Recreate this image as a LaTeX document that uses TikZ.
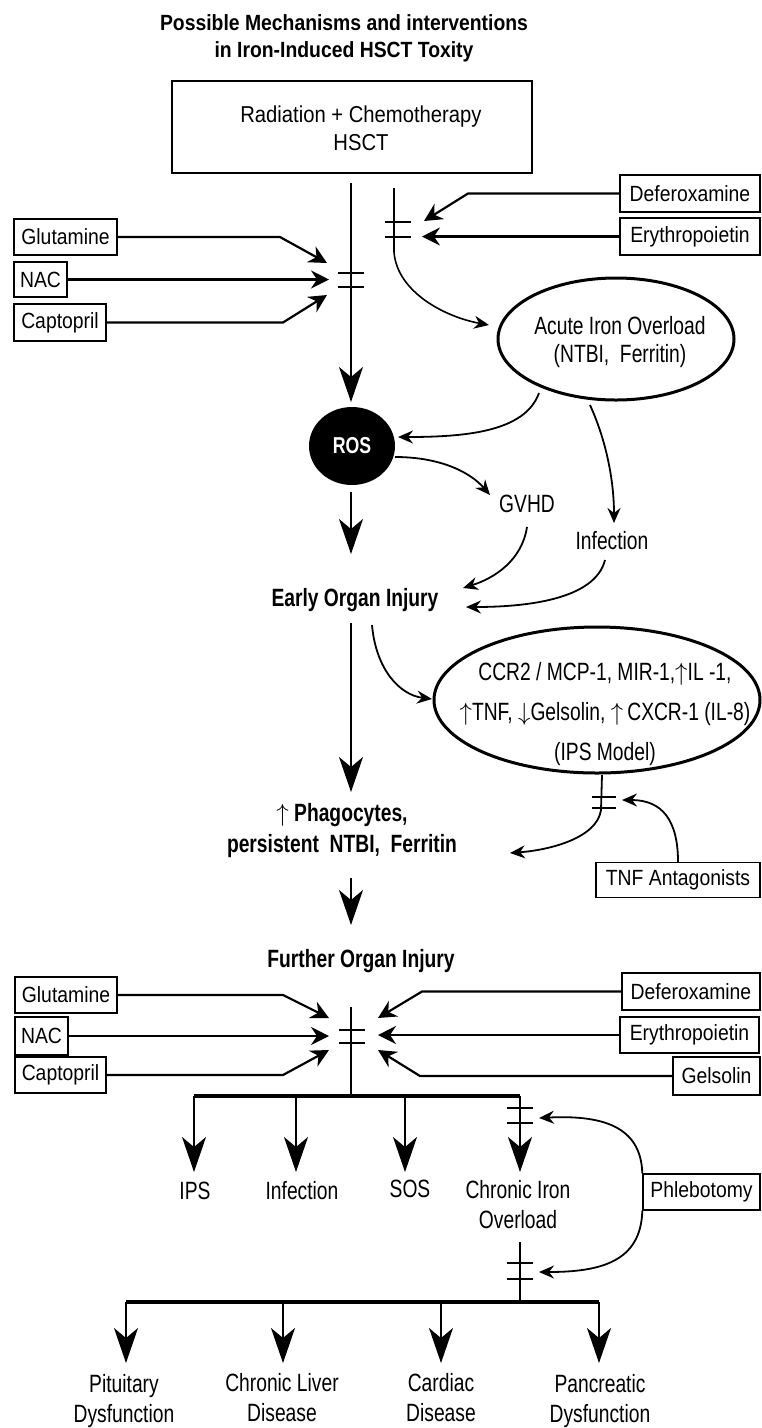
\documentclass[tikz,border=0pt]{standalone}
\usepackage{fontspec}
\setmainfont{Liberation Sans}
\newfontfamily\condfam[FakeStretch=0.77]{Liberation Sans}
\newfontfamily\boxfam[FakeStretch=0.88]{Liberation Sans}
\usetikzlibrary{arrows.meta,shapes.geometric}
\newcommand\lblfont{\condfam\fontsize{25}{30}\selectfont}
\newcommand\boxfont{\boxfam\fontsize{22}{26}\selectfont}
\newcommand\inhibbars[4]{% x, y1, y2, half width
  \draw[barline] ({#1-#4},#2) -- ({#1+#4},#2);
  \draw[barline] ({#1-#4},#3) -- ({#1+#4},#3);}
\newcommand\upa{$\uparrow$}
\newcommand\dna{$\downarrow$}
\begin{document}
\begin{tikzpicture}[x=1pt,y=-1pt,
  every node/.style={font=\lblfont, inner sep=1pt},
  box/.style={draw, line width=1.4pt, inner sep=2pt, font=\boxfont},
  oval/.style={draw, ellipse, line width=3pt, inner sep=0pt},
  thinline/.style={line width=1.4pt},
  bigarrow/.style={line width=1.5pt, -{Stealth[length=35pt,width=24pt,inset=10pt]}},
  medarrow/.style={line width=2.2pt, -{Stealth[length=18pt,width=18pt,inset=6pt]}},
  smallarrow/.style={line width=1.8pt, -{Stealth[length=15pt,width=13pt,inset=5pt]}},
  barline/.style={line width=2pt},
  busline/.style={line width=4pt},
]
\useasboundingbox (0,0) rectangle (762,1428);

% ---------- title and source box
\node[anchor=north, align=center, font=\boxfam\bfseries\fontsize{22}{27}\selectfont] (title) at (344,13)
  {Possible Mechanisms and interventions\\in Iron-Induced HSCT Toxity};
\node[draw, line width=2.2pt, minimum width=360pt, minimum height=92pt,
  label={[align=center, font=\boxfam\fontsize{23}{28}\selectfont, xshift=9pt, yshift=-1pt]center:{Radiation + Chemotherapy\\HSCT}}] (hsct) at (352,127) {};

% ---------- upper intervention boxes
\node[box, minimum width=103pt, minimum height=36pt] (glu1) at (65.5,237) {Glutamine};
\node[box, minimum width=53pt, minimum height=35pt] (nac1) at (40.5,279.5) {NAC};
\node[box, minimum width=92pt, minimum height=37pt] (cap1) at (60,322.5) {Captopril};
\node[box, minimum width=140pt, minimum height=37pt] (def1) at (690,193.5) {Deferoxamine};
\node[box, minimum width=140pt, minimum height=37pt] (ery1) at (690,236.5) {Erythropoietin};

% ---------- acute iron overload, ROS etc.
\node[oval, minimum width=236pt, minimum height=122pt,
  label={[align=center, font=\condfam\fontsize{25}{28}\selectfont, xshift=4pt, yshift=-3.5pt]center:{Acute Iron Overload\\(NTBI,\ \ Ferritin)}}] (aio) at (616,339) {};
\node[ellipse, fill=black, minimum width=86pt, minimum height=78pt, inner sep=0pt,
  text=white, font=\condfam\bfseries\fontsize{23}{24}\selectfont] (ros) at (352,446) {ROS};
\node[anchor=base] (gvhd) at (527,512) {GVHD};
\node[anchor=base] (inf1) at (612,549) {Infection};
\node[anchor=base, font=\condfam\bfseries\fontsize{25}{30}\selectfont] (eoi) at (355,606) {Early Organ Injury};

\node[oval, minimum width=326pt, minimum height=146pt,
  label={[align=center, font=\condfam\fontsize{25}{40}\selectfont, xshift=8pt, yshift=-14pt]center:{CCR2 / MCP-1, MIR-1,\upa IL -1,\\\upa TNF, \dna Gelsolin, \upa\,CXCR-1 (IL-8)\\(IPS Model)}}] (ccr) at (597,700) {};

\node[anchor=north, align=center, font=\condfam\bfseries\fontsize{25}{31}\selectfont] (phag) at (342,802)
  {\upa\ Phagocytes,\\persistent\ \ NTBI,\ \ Ferritin};
\node[box, minimum width=164pt, minimum height=35pt] (tnf) at (678,880) {TNF Antagonists};
\node[anchor=base, font=\condfam\bfseries\fontsize{25}{30}\selectfont] (foi) at (361,967) {Further Organ Injury};

% ---------- lower intervention boxes
\node[box, minimum width=102pt, minimum height=36pt] (glu2) at (66,995) {Glutamine};
\node[box, minimum width=53pt, minimum height=38pt] (nac2) at (41.5,1036) {NAC};
\node[box, minimum width=91pt, minimum height=36pt] (cap2) at (60.5,1075) {Captopril};
\node[box, minimum width=138pt, minimum height=37pt] (def2) at (691,991.5) {Deferoxamine};
\node[box, minimum width=139pt, minimum height=36pt] (ery2) at (689.5,1035) {Erythropoietin};
\node[box, minimum width=87pt, minimum height=38pt] (gel2) at (716.5,1076) {Gelsolin};

% ---------- outcomes
\node[anchor=base] (ips) at (195,1199) {IPS};
\node[anchor=base] (inf2) at (302,1199) {Infection};
\node[anchor=base] (sos) at (410,1197) {SOS};
\node[anchor=north, align=center] (cio) at (518,1179) {Chronic Iron\\Overload};
\node[box, minimum width=117pt, minimum height=36pt] (phl) at (701.5,1192) {Phlebotomy};

\node[anchor=north, align=center] (pit) at (124,1373) {Pituitary\\Dysfunction};
\node[anchor=north, align=center] (liv) at (282,1372) {Chronic Liver\\Disease};
\node[anchor=north, align=center] (car) at (441,1372) {Cardiac\\Disease};
\node[anchor=north, align=center] (pan) at (600,1373) {Pancreatic\\Dysfunction};

% ---------- coordinates
\coordinate (mtop) at (351,183);
\coordinate (rostip) at (351,402);
\coordinate (ironstart) at (394,188);
\coordinate (aiotip) at (489,325);
\coordinate (tg1) at (327,263);
\coordinate (tn1) at (329,279.5);
\coordinate (tc1) at (327,295);
\coordinate (td1) at (424,221);
\coordinate (te1) at (422,236.5);
\coordinate (rosin) at (398,437);
\coordinate (rosout) at (395,457);
\coordinate (gvhdtip) at (490,495);
\coordinate (aiob1) at (539,393);
\coordinate (aiob2) at (590,405);
\coordinate (inftip) at (614,523);
\coordinate (rosdown) at (351,492);
\coordinate (eoitip) at (351,554);
\coordinate (gvhdbot) at (527,527);
\coordinate (eoir1) at (463,588);
\coordinate (infbot) at (605,560);
\coordinate (eoir2) at (466,607);
\coordinate (eoidown) at (351,623);
\coordinate (phagtip) at (351,792);
\coordinate (eoiside) at (372,625);
\coordinate (ccrtip) at (432,699);
\coordinate (ccrdown) at (602,775);
\coordinate (phagside) at (510,853);
\coordinate (tnftip) at (622,800);
\coordinate (phagdown) at (351,878);
\coordinate (foitip) at (351,925);
\coordinate (fstart) at (351,1007);
\coordinate (tg2) at (329,1018);
\coordinate (tn2) at (329,1036);
\coordinate (tc2) at (329,1050);
\coordinate (td2) at (378,1018);
\coordinate (te2) at (378,1035);
\coordinate (tl2) at (378,1050);
\coordinate (busA) at (351,1096);
\coordinate (d1) at (194,1096);
\coordinate (d2) at (296,1096);
\coordinate (d3) at (405,1096);
\coordinate (d4) at (520,1096);
\coordinate (phtip1) at (539,1118);
\coordinate (phtip2) at (539,1272);
\coordinate (ciodown) at (520,1242);
\coordinate (busB) at (520,1302);
\coordinate (e1) at (126,1302);
\coordinate (e2) at (283,1302);
\coordinate (e3) at (441,1302);
\coordinate (e4) at (599,1302);

% ---------- upper connectors
\draw[bigarrow] (mtop) -- (rostip);
\inhibbars{351}{273}{287}{13}
\draw[smallarrow, line width=1.6pt] (ironstart) -- (394,252) .. controls (397,292) and (445,317) .. (aiotip);
\inhibbars{398}{222}{237}{13}

\draw[medarrow] (glu1.east) -- (280,237) -- (tg1);
\draw[medarrow] (nac1.east) -- (tn1);
\draw[medarrow] (cap1.east) -- (283,322.5) -- (tc1);
\draw[medarrow] (def1.west) -- (468,193.5) -- (td1);
\draw[medarrow] (ery1.west) -- (te1);

\draw[smallarrow] (aiob1) .. controls (525,432) and (465,437) .. (rosin);
\draw[smallarrow] (rosout) .. controls (440,457) and (470,472) .. (gvhdtip);
\draw[smallarrow] (aiob2) .. controls (606,440) and (614,480) .. (inftip);
\draw[bigarrow] (rosdown) -- (eoitip);
\draw[smallarrow] (gvhdbot) .. controls (522,560) and (495,578) .. (eoir1);
\draw[smallarrow] (infbot) .. controls (595,600) and (525,607) .. (eoir2);

% ---------- middle connectors
\draw[bigarrow] (eoidown) -- (phagtip);
\draw[smallarrow] (eoiside) .. controls (376,670) and (400,695) .. (ccrtip);
\draw[smallarrow] (ccrdown) -- (601,810) .. controls (597,838) and (550,850) .. (phagside);
\inhibbars{604}{797}{808}{12}
\draw[smallarrow] (tnf.north) .. controls (678,820) and (662,800) .. (tnftip);
\draw[bigarrow] (phagdown) -- (foitip);

% ---------- lower connectors
\draw[thinline] (fstart) -- (busA);
\inhibbars{352}{1030}{1043}{13}
\draw[medarrow] (glu2.east) -- (283,995) -- (tg2);
\draw[medarrow] (nac2.east) -- (tn2);
\draw[medarrow] (cap2.east) -- (283,1075) -- (tc2);
\draw[medarrow] (def2.west) -- (422,991.5) -- (td2);
\draw[medarrow] (ery2.west) -- (te2);
\draw[medarrow] (gel2.west) -- (420,1076) -- (tl2);

\draw[busline] (d1) -- (d4);
\draw[bigarrow] (d1) -- (d1 |- 0,1172);
\draw[bigarrow] (d2) -- (d2 |- 0,1172);
\draw[bigarrow] (d3) -- (d3 |- 0,1172);
\draw[bigarrow] (d4) -- (d4 |- 0,1172);
\inhibbars{520}{1108}{1123}{13}

\draw[smallarrow] (phl.north west) .. controls (641,1125) and (600,1115) .. (phtip1);
\draw[smallarrow] (phl.south west) .. controls (641,1262) and (600,1272) .. (phtip2);

\draw[thinline, line width=1.8pt] (ciodown) -- (busB);
\inhibbars{520}{1263}{1279}{13}
\draw[busline] (e1) -- (e4);
\draw[bigarrow] (e1) -- (e1 |- 0,1363);
\draw[bigarrow] (e2) -- (e2 |- 0,1363);
\draw[bigarrow] (e3) -- (e3 |- 0,1363);
\draw[bigarrow] (e4) -- (e4 |- 0,1363);
\end{tikzpicture}
\end{document}
